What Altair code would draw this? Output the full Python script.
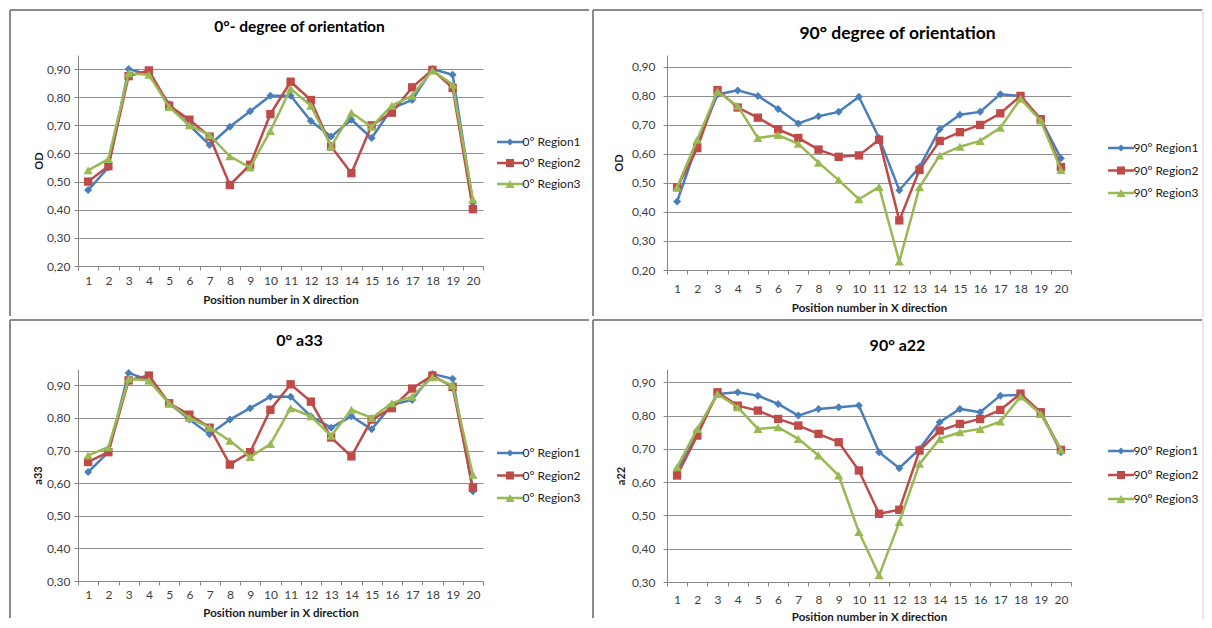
import altair as alt
import pandas as pd

positions = [1, 2, 3, 4, 5, 6, 7, 8, 9, 10, 11, 12, 13, 14, 15, 16, 17, 18, 19, 20]

names_0 = ["0° Region1", "0° Region2", "0° Region3"]
names_90 = ["90° Region1", "90° Region2", "90° Region3"]

# 0° degree of orientation (OD)
od0_r1 = [0.47, 0.55, 0.90, 0.88, 0.775, 0.70, 0.63, 0.695, 0.75, 0.805, 0.805, 0.715, 0.66, 0.72, 0.655, 0.76, 0.79, 0.90, 0.88, 0.425]
od0_r2 = [0.50, 0.555, 0.875, 0.895, 0.77, 0.72, 0.66, 0.488, 0.56, 0.74, 0.855, 0.79, 0.625, 0.53, 0.70, 0.745, 0.835, 0.897, 0.833, 0.402]
od0_r3 = [0.54, 0.58, 0.885, 0.88, 0.765, 0.70, 0.665, 0.59, 0.55, 0.68, 0.83, 0.77, 0.625, 0.745, 0.695, 0.77, 0.805, 0.895, 0.845, 0.437]

# 90° degree of orientation (OD)
od90_r1 = [0.436, 0.635, 0.805, 0.819, 0.80, 0.755, 0.705, 0.73, 0.745, 0.797, 0.655, 0.475, 0.555, 0.685, 0.735, 0.745, 0.806, 0.80, 0.72, 0.585]
od90_r2 = [0.485, 0.62, 0.82, 0.76, 0.725, 0.685, 0.655, 0.615, 0.59, 0.595, 0.649, 0.371, 0.545, 0.645, 0.675, 0.70, 0.74, 0.80, 0.72, 0.555]
od90_r3 = [0.485, 0.65, 0.815, 0.765, 0.655, 0.665, 0.635, 0.57, 0.51, 0.444, 0.486, 0.229, 0.485, 0.595, 0.625, 0.645, 0.69, 0.79, 0.715, 0.545]

# 0° a33
a33_r1 = [0.634, 0.695, 0.938, 0.915, 0.845, 0.795, 0.75, 0.795, 0.83, 0.865, 0.865, 0.805, 0.77, 0.805, 0.765, 0.84, 0.855, 0.935, 0.92, 0.575]
a33_r2 = [0.665, 0.695, 0.915, 0.93, 0.845, 0.81, 0.77, 0.657, 0.695, 0.825, 0.903, 0.85, 0.74, 0.682, 0.795, 0.83, 0.89, 0.93, 0.895, 0.586]
a33_r3 = [0.685, 0.71, 0.92, 0.915, 0.845, 0.80, 0.77, 0.73, 0.68, 0.72, 0.83, 0.805, 0.745, 0.825, 0.80, 0.845, 0.865, 0.925, 0.90, 0.626]

# 90° a22
a22_r1 = [0.635, 0.755, 0.865, 0.87, 0.86, 0.835, 0.80, 0.82, 0.825, 0.83, 0.69, 0.642, 0.70, 0.78, 0.82, 0.81, 0.86, 0.862, 0.81, 0.69]
a22_r2 = [0.62, 0.74, 0.87, 0.83, 0.815, 0.79, 0.77, 0.745, 0.72, 0.635, 0.505, 0.517, 0.695, 0.755, 0.775, 0.79, 0.817, 0.866, 0.81, 0.697]
a22_r3 = [0.645, 0.76, 0.865, 0.825, 0.76, 0.765, 0.73, 0.68, 0.62, 0.45, 0.32, 0.48, 0.655, 0.73, 0.75, 0.76, 0.782, 0.857, 0.805, 0.697]

ticks_02 = [0.2, 0.3, 0.4, 0.5, 0.6, 0.7, 0.8, 0.9]
ticks_03 = [0.3, 0.4, 0.5, 0.6, 0.7, 0.8, 0.9]

colors = ["#4A7EBB", "#BE4B48", "#98B954"]
marker_shapes = ["diamond", "square", "triangle-up"]
marker_sizes = [64, 70, 85]
legend_paths = [
    "M-1.24,-0.12L1.24,-0.12L1.24,0.12L-1.24,0.12Z M0,-0.33L0.33,0L0,0.33L-0.33,0Z",
    "M-1.24,-0.12L1.24,-0.12L1.24,0.12L-1.24,0.12Z M-0.38,-0.38L0.38,-0.38L0.38,0.38L-0.38,0.38Z",
    "M-1.24,-0.12L1.24,-0.12L1.24,0.12L-1.24,0.12Z M0,-0.38L0.43,0.38L-0.43,0.38Z",
]

FONT = "Lato"
BORDER = "#8a8a8a"


def panel(title, title_size, ytitle, names, series, ydom, yticks, W, H, L, T, R, B,
          title_offset, lx, ly, row_pad, xlab_pad, xtitle_pad, ylab_pad, ytitle_pad, right_border):
    rows = []
    for name, vals in zip(names, series):
        for p, v in zip(positions, vals):
            rows.append({"pos": p, "value": v, "series": name})
    df = pd.DataFrame(rows)
    cscale = alt.Scale(domain=names, range=colors)
    x = alt.X("pos:O",
              scale=alt.Scale(type="band", paddingInner=0, paddingOuter=0),
              axis=alt.Axis(title="Position number in X direction", labelAngle=0, tickBand="extent",
                            grid=False, domainColor="#868686", tickColor="#868686", tickSize=4,
                            labelFont=FONT, labelFontSize=12, labelColor="#404040", labelPadding=xlab_pad,
                            labelOverlap=False, titleFont=FONT, titleFontSize=11.5, titleFontWeight="bold",
                            titleColor="#1a1a1a", titlePadding=xtitle_pad))
    y = alt.Y("value:Q",
              scale=alt.Scale(domain=ydom, nice=False, zero=False),
              axis=alt.Axis(title=ytitle, values=yticks,
                            labelExpr="replace(format(datum.value, '.2f'), '.', ',')",
                            grid=True, gridColor="#8e8e8e", gridWidth=1,
                            domainColor="#868686", tickColor="#868686", tickSize=4,
                            labelFont=FONT, labelFontSize=12, labelColor="#404040", labelPadding=ylab_pad,
                            titleFont=FONT, titleFontSize=11, titleFontWeight="bold",
                            titleColor="#1a1a1a", titlePadding=ytitle_pad))
    one = pd.DataFrame({"k": [0]})
    layers = [
        alt.Chart(one).mark_rect(opacity=0).encode(
            x=alt.value(-L), x2=alt.value(W + R), y=alt.value(-T), y2=alt.value(H + B)),
        alt.Chart(one).mark_rule(color=BORDER, strokeWidth=2).encode(
            x=alt.value(-L + 2), y=alt.value(-T + 2), y2=alt.value(H + B - 2)),
        alt.Chart(one).mark_rule(color=BORDER, strokeWidth=2).encode(
            x=alt.value(-L + 2), x2=alt.value(W + R - 2), y=alt.value(-T + 2)),
    ]
    if right_border:
        layers.append(alt.Chart(one).mark_rule(color="#d0d0d0", strokeWidth=1).encode(
            x=alt.value(W + R - 1), y=alt.value(-T + 1), y2=alt.value(H + B - 1)))
    for i, name in enumerate(names):
        sub = alt.Chart(df).transform_filter(alt.datum.series == name)
        layers.append(sub.mark_line(strokeWidth=2.5).encode(
            x=x, y=y, color=alt.Color("series:N", scale=cscale, legend=None)))
        layers.append(sub.mark_point(filled=True, opacity=1, shape=marker_shapes[i],
                                     size=marker_sizes[i]).encode(
            x=x, y=y, color=alt.Color("series:N", scale=cscale, legend=None)))
    leg = alt.Legend(title=None, orient="none", legendX=lx, legendY=ly, symbolSize=441,
                     labelFont=FONT, labelFontSize=12, labelColor="#1a1a1a", rowPadding=row_pad,
                     labelOffset=2, symbolStrokeWidth=0, padding=0)
    layers.append(alt.Chart(df).transform_filter("false").mark_point(filled=True, opacity=1).encode(
        color=alt.Color("series:N", scale=cscale, legend=leg),
        shape=alt.Shape("series:N", scale=alt.Scale(domain=names, range=legend_paths), legend=leg)))
    return alt.layer(*layers).resolve_scale(color="independent", shape="independent").properties(
        width=W, height=H,
        title=alt.TitleParams(text=title, font=FONT, fontSize=title_size, fontWeight="bold", color="#000000",
                              anchor="middle", frame="bounds", offset=title_offset))


p1 = panel("0°- degree of orientation", 15.5, "OD", names_0, [od0_r1, od0_r2, od0_r3], [0.2, 0.95], ticks_02,
           405, 211, 70, 47, 108, 52, -27, 421.5, 76.5, 4, 5, 8.5, 4, 2, False)
p2 = panel("90° degree of orientation", 17.5, "OD", names_90, [od90_r1, od90_r2, od90_r3], [0.2, 0.941], ticks_02,
           404, 215, 76, 47, 133, 48, -34, 443.5, 82.5, 5.5, 9, 8, 8, 7, True)
p3 = panel("0° a33", 16, "a33", names_0, [a33_r1, a33_r2, a33_r3], [0.3, 0.95], ticks_03,
           405, 212, 70, 51, 108, 39, -31, 421.5, 73.5, 5.5, 4, 7, 4, 2.5, False)
p4 = panel("90° a22", 16, "a22", names_90, [a22_r1, a22_r2, a22_r3], [0.3, 0.94], ticks_03,
           404, 213, 76, 51, 133, 38, -36, 443.5, 71.5, 7, 8, 6, 8, 5, True)

chart = alt.vconcat(
    alt.hconcat(p1, p2, spacing=0),
    alt.hconcat(p3, p4, spacing=0),
    spacing=0,
).properties(padding=0, background="white").configure_view(stroke=None)

chart.save("out.html", embed_options={"renderer": "svg", "actions": False})
